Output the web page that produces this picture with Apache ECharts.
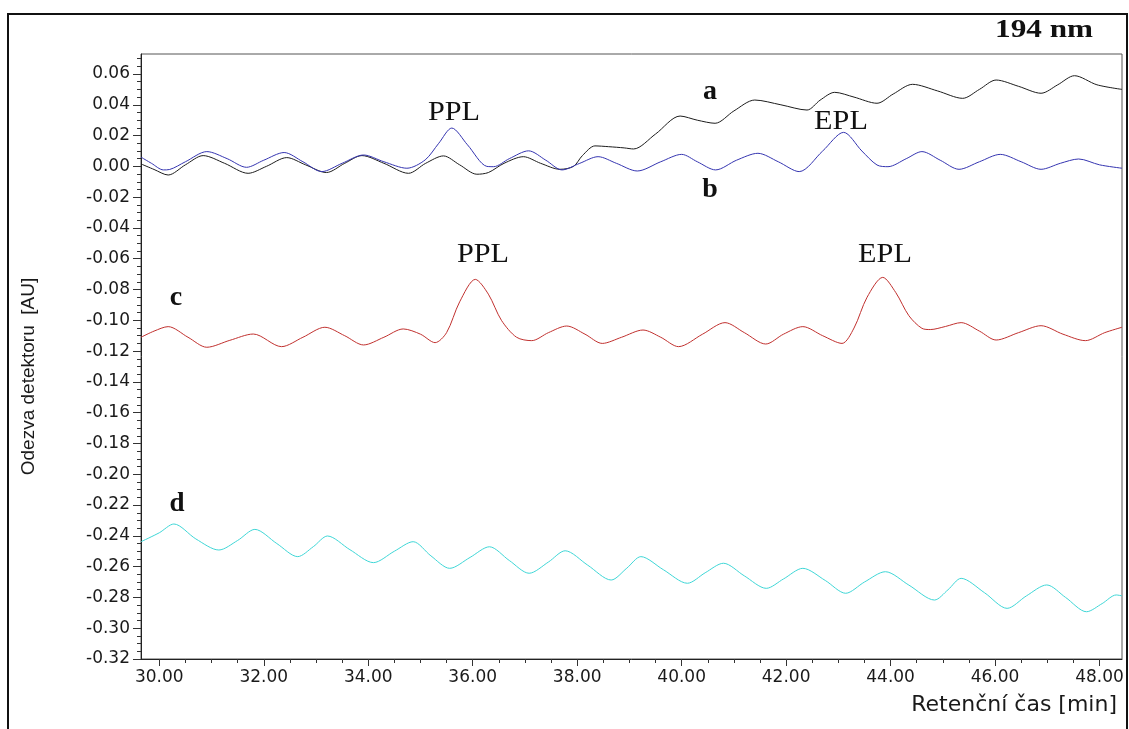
<!DOCTYPE html>
<html>
<head>
<meta charset="utf-8">
<script src="https://cdn.jsdelivr.net/npm/echarts@6/dist/echarts.min.js"></script>
<style>html,body{margin:0;padding:0;background:#fff;}#chart{width:1129px;height:729px;}</style>
</head>
<body>
<div id="chart"></div>
<script>
// ---- data ----
const xTickValues = [30, 32, 34, 36, 38, 40, 42, 44, 46, 48];
const yTickValues = [-0.32, -0.30, -0.28, -0.26, -0.24, -0.22, -0.20, -0.18, -0.16, -0.14, -0.12, -0.10, -0.08, -0.06, -0.04, -0.02, 0.00, 0.02, 0.04, 0.06];

const aTimes = [29.65,29.9,30.17,30.5,30.84,31.25,31.7,32.05,32.44,32.8,33.2,33.55,33.88,34.3,34.77,35.1,35.44,35.75,36.08,36.3,36.6,36.97,37.3,37.67,37.93,38.1,38.34,38.6,38.9,39.08,39.5,39.97,40.3,40.64,41.0,41.4,41.9,42.4,42.65,42.93,43.3,43.74,44.05,44.42,44.9,45.38,45.7,46.02,46.45,46.88,47.2,47.52,47.95,48.43];
const aValues = [0.0016,-0.002,-0.0056,0.001,0.007,0.002,-0.0045,0.000,0.0057,0.001,-0.004,0.002,0.007,0.002,-0.0045,0.002,0.0068,0.001,-0.0051,-0.004,0.002,0.0063,0.002,-0.0019,0.0,0.007,0.0133,0.0128,0.012,0.0113,0.021,0.0327,0.030,0.028,0.036,0.0431,0.040,0.0366,0.043,0.0481,0.045,0.041,0.047,0.0533,0.049,0.0442,0.050,0.0561,0.052,0.0475,0.053,0.0589,0.053,0.050];

const bTimes = [29.65,29.85,30.08,30.2,30.5,30.91,31.3,31.67,32.0,32.39,32.75,33.11,33.5,33.91,34.3,34.74,35.09,35.35,35.6,35.9,36.27,36.4,36.7,37.07,37.4,37.71,38.05,38.4,38.75,39.15,39.6,40.0,40.3,40.65,41.05,41.46,41.85,42.25,42.7,43.1,43.45,43.74,43.95,44.3,44.6,44.95,45.31,45.7,46.1,46.5,46.88,47.25,47.6,48.0,48.43];
const bValues = [0.006,0.002,-0.0023,-0.002,0.003,0.0096,0.005,-0.0006,0.004,0.009,0.003,-0.0034,0.002,0.0074,0.003,-0.0012,0.0042,0.015,0.0249,0.014,0.0,-0.0002,0.005,0.0101,0.004,-0.0023,0.002,0.0063,0.002,-0.003,0.003,0.0078,0.003,-0.0023,0.004,0.0085,0.003,-0.0034,0.010,0.0221,0.010,0.0009,-0.0002,0.005,0.0096,0.004,-0.0019,0.003,0.0078,0.003,-0.0019,0.002,0.0048,0.001,-0.0012];

const cTimes = [29.65,29.9,30.17,30.55,30.91,31.35,31.8,32.34,32.75,33.17,33.55,33.91,34.3,34.67,35.0,35.28,35.5,35.75,36.05,36.3,36.55,36.84,37.13,37.45,37.8,38.15,38.48,38.85,39.26,39.6,39.94,40.4,40.83,41.2,41.61,41.95,42.32,42.7,43.07,43.3,43.55,43.85,44.1,44.35,44.6,44.76,45.05,45.35,45.7,46.02,46.45,46.88,47.3,47.73,48.1,48.43];
const cValues = [-0.111,-0.107,-0.1041,-0.111,-0.1175,-0.113,-0.1089,-0.1171,-0.111,-0.1045,-0.110,-0.116,-0.111,-0.1056,-0.109,-0.1145,-0.108,-0.088,-0.0734,-0.083,-0.100,-0.111,-0.1132,-0.108,-0.1037,-0.109,-0.115,-0.111,-0.1063,-0.111,-0.1171,-0.109,-0.1015,-0.108,-0.1154,-0.109,-0.1041,-0.110,-0.115,-0.105,-0.085,-0.0721,-0.082,-0.097,-0.1052,-0.106,-0.104,-0.1015,-0.107,-0.1128,-0.108,-0.1035,-0.109,-0.1132,-0.108,-0.1045];

const dTimes = [29.65,30.0,30.28,30.7,31.14,31.5,31.83,32.25,32.65,32.95,33.22,33.65,34.1,34.5,34.86,35.2,35.56,35.95,36.32,36.7,37.08,37.45,37.77,38.2,38.65,38.95,39.22,39.65,40.11,40.45,40.8,41.2,41.62,41.95,42.32,42.75,43.14,43.5,43.9,44.35,44.84,45.1,45.35,45.8,46.23,46.6,46.99,47.35,47.75,48.05,48.32,48.43];
const dValues = [-0.2438,-0.238,-0.2323,-0.242,-0.2492,-0.243,-0.2358,-0.245,-0.2535,-0.247,-0.2401,-0.249,-0.2574,-0.250,-0.2438,-0.253,-0.2611,-0.254,-0.2471,-0.256,-0.2643,-0.257,-0.2497,-0.259,-0.2687,-0.261,-0.2535,-0.262,-0.2708,-0.264,-0.2578,-0.266,-0.2741,-0.268,-0.2611,-0.269,-0.2773,-0.270,-0.2633,-0.272,-0.2817,-0.275,-0.2676,-0.277,-0.2871,-0.279,-0.2719,-0.280,-0.2893,-0.284,-0.2784,-0.279];

// ---- chart ----
const X_MIN = 29.65, X_MAX = 48.43, Y_MIN = -0.32, Y_MAX = 0.073;
const xMinor = []; for (let v = 29.5; v <= 48.5; v += 0.5) if (v >= X_MIN && v <= X_MAX) xMinor.push(v);
const yMinor = []; for (let i = 0; i <= 78; i++) yMinor.push(+(-0.32 + i * 0.005).toFixed(3));

function pairs(ts, vs) { return ts.map((t, i) => [t, vs[i]]); }

const chart = echarts.init(document.getElementById('chart'));
const axisFont = { fontFamily: 'DejaVu Sans', fontSize: 17, color: '#1a1a1a' };
const serif = '"Liberation Serif", "Times New Roman", serif';

function lineSeries(name, ts, vs, color) {
  return { name, type: 'line', data: pairs(ts, vs), showSymbol: false, smooth: 0.3,
    lineStyle: { color, width: 1 }, itemStyle: { color }, animation: false };
}

chart.setOption({
  animation: false,
  grid: { left: 141, top: 54, right: 7, bottom: 70, show: true, borderColor: '#555', borderWidth: 1 },
  xAxis: [
    { type: 'value', min: X_MIN, max: X_MAX, position: 'bottom',
      name: 'Retenční čas [min]', nameLocation: 'end', nameGap: -5,
      nameTextStyle: { fontFamily: 'DejaVu Sans', fontSize: 22, color: '#1a1a1a', align: 'right', verticalAlign: 'top', padding: [35, 0, 0, 0] },
      axisLine: { show: true, onZero: false, lineStyle: { color: '#222', width: 1 } },
      axisTick: { show: true, customValues: xTickValues, length: 7, lineStyle: { color: '#333' } },
      axisLabel: { customValues: xTickValues, formatter: v => v.toFixed(2), margin: 10, ...axisFont },
      splitLine: { show: false } },
    { type: 'value', min: X_MIN, max: X_MAX, position: 'bottom',
      axisLine: { show: false, onZero: false },
      axisTick: { show: true, customValues: xMinor, length: 4, lineStyle: { color: '#333' } },
      axisLabel: { show: false }, splitLine: { show: false } }
  ],
  yAxis: [
    { type: 'value', min: Y_MIN, max: Y_MAX, position: 'left',
      name: 'Odezva detektoru  [AU]', nameLocation: 'middle', nameGap: 103,
      nameTextStyle: { fontFamily: '"Liberation Sans", Arial, sans-serif', fontSize: 19, color: '#1a1a1a', padding: [0, 40, 0, 0] },
      axisLine: { show: true, onZero: false, lineStyle: { color: '#222', width: 1 } },
      axisTick: { show: true, customValues: yTickValues, length: 8, lineStyle: { color: '#333' } },
      axisLabel: { customValues: yTickValues, formatter: v => v.toFixed(2), margin: 11, ...axisFont },
      splitLine: { show: false } },
    { type: 'value', min: Y_MIN, max: Y_MAX, position: 'left',
      axisLine: { show: false, onZero: false },
      axisTick: { show: true, customValues: yMinor, length: 4, lineStyle: { color: '#333' } },
      axisLabel: { show: false }, splitLine: { show: false } }
  ],
  series: [
    lineSeries('a', aTimes, aValues, '#1c1c1c'),
    lineSeries('b', bTimes, bValues, '#3434b0'),
    lineSeries('c', cTimes, cValues, '#c0302e'),
    lineSeries('d', dTimes, dValues, '#3ed6d6')
  ],
  graphic: [
    { type: 'rect', shape: { x: 8, y: 14, width: 1119, height: 740 }, style: { fill: 'none', stroke: '#111', lineWidth: 2 }, silent: true },
    { type: 'text', x: 1044, y: 30, scaleX: 1.2, style: { text: '194 nm', font: 'bold 26px ' + serif, fill: '#111', align: 'center', verticalAlign: 'middle' } },
    { type: 'text', x: 710, y: 92, style: { text: 'a', font: 'bold 28px ' + serif, fill: '#111', align: 'center', verticalAlign: 'middle' } },
    { type: 'text', x: 710, y: 190, style: { text: 'b', font: 'bold 28px ' + serif, fill: '#111', align: 'center', verticalAlign: 'middle' } },
    { type: 'text', x: 176, y: 298, style: { text: 'c', font: 'bold 28px ' + serif, fill: '#111', align: 'center', verticalAlign: 'middle' } },
    { type: 'text', x: 177, y: 504, style: { text: 'd', font: 'bold 27px ' + serif, fill: '#111', align: 'center', verticalAlign: 'middle' } },
    { type: 'text', x: 454, y: 113, scaleX: 1.08, style: { text: 'PPL', font: '28px ' + serif, fill: '#111', align: 'center', verticalAlign: 'middle' } },
    { type: 'text', x: 841, y: 122, scaleX: 1.08, style: { text: 'EPL', font: '28px ' + serif, fill: '#111', align: 'center', verticalAlign: 'middle' } },
    { type: 'text', x: 483, y: 255, scaleX: 1.08, style: { text: 'PPL', font: '28px ' + serif, fill: '#111', align: 'center', verticalAlign: 'middle' } },
    { type: 'text', x: 885, y: 255, scaleX: 1.08, style: { text: 'EPL', font: '28px ' + serif, fill: '#111', align: 'center', verticalAlign: 'middle' } }
  ]
});
</script>
</body>
</html>
